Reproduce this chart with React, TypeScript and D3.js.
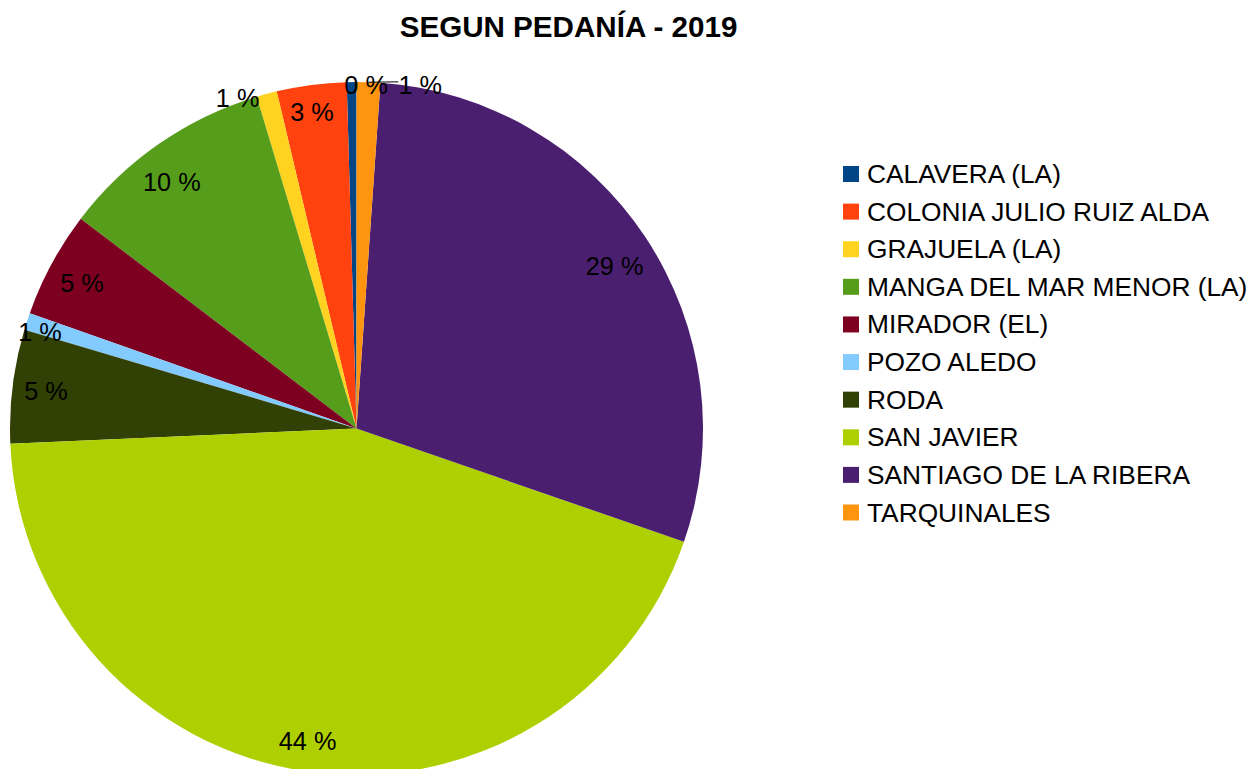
import React from 'react';
import * as d3 from 'd3';

// data (share of total, %)
const categories = [
  'CALAVERA (LA)',
  'COLONIA JULIO RUIZ ALDA',
  'GRAJUELA (LA)',
  'MANGA DEL MAR MENOR (LA)',
  'MIRADOR (EL)',
  'POZO ALEDO',
  'RODA',
  'SAN JAVIER',
  'SANTIAGO DE LA RIBERA',
  'TARQUINALES',
];
const shares = [0.45, 3.25, 0.95, 10.0, 4.95, 0.8, 5.3, 44.0, 29.2, 1.1];
const colors = [
  '#004586',
  '#ff420e',
  '#ffd320',
  '#579d1c',
  '#7e0021',
  '#83caff',
  '#314004',
  '#aecf00',
  '#4b1f6f',
  '#ff950e',
];
const title = 'SEGUN PEDANÍA - 2019';

// label nudges away from the plain centroid (layout only)
const labelNudge: Record<string, [number, number]> = {
  'CALAVERA (LA)': [14, -32],
  'COLONIA JULIO RUIZ ALDA': [-4, -7.5],
  'GRAJUELA (LA)': [-38, -29],
  'MANGA DEL MAR MENOR (LA)': [-7, 10],
  'MIRADOR (EL)': [0, 2.5],
  'POZO ALEDO': [-20, -0.5],
  RODA: [-1, 0.5],
  'SAN JAVIER': [-4, 4],
  'SANTIAGO DE LA RIBERA': [-2, 10],
  TARQUINALES: [53, -32],
};

const width = 1250;
const height = 769;
const cx = 356.5;
const cy = 428.5;
const radius = 346.5;
const font = '"Liberation Sans", Arial, sans-serif';

type Row = { name: string; value: number; color: string };

export default function App() {
  const rows: Row[] = categories.map((c, i) => ({ name: c, value: shares[i], color: colors[i] }));
  const total = d3.sum(shares);

  const pie = d3
    .pie<Row>()
    .sort(null)
    .value((d) => d.value)
    .startAngle(0)
    .endAngle(-2 * Math.PI);
  const arcs = pie(rows);

  const arc = d3.arc<d3.PieArcDatum<Row>>().innerRadius(0).outerRadius(radius);
  const labelArc = d3
    .arc<d3.PieArcDatum<Row>>()
    .innerRadius(radius * 0.9)
    .outerRadius(radius * 0.9);
  const edgeArc = d3.arc<d3.PieArcDatum<Row>>().innerRadius(radius).outerRadius(radius);

  const legendY = d3.scalePoint<string>().domain(categories).range([174, 512.5]);

  const tarq = arcs[arcs.length - 1];
  const tarqEdge = edgeArc.centroid(tarq);
  const tarqLabel = labelArc.centroid(tarq);
  const tn = labelNudge['TARQUINALES'];

  return (
    <svg
      width={width}
      height={height}
      viewBox={`0 0 ${width} ${height}`}
      style={{ position: 'absolute', left: 0, top: 0, background: '#fff' }}
    >
      <rect width={width} height={height} fill='#fff' />
      <text
        x={568.5}
        y={37}
        textAnchor='middle'
        fontFamily={font}
        fontWeight='bold'
        fontSize={29.6}
      >
        {title}
      </text>
      <g transform={`translate(${cx},${cy})`}>
        {arcs.map((a) => (
          <path key={a.data.name} d={arc(a) || ''} fill={a.data.color} />
        ))}
        <line
          x1={tarqEdge[0]}
          y1={tarqEdge[1]}
          x2={tarqLabel[0] + tn[0] - 22}
          y2={tarqLabel[1] + tn[1] - 3}
          stroke='#000'
          strokeWidth={1}
        />
        {arcs.map((a) => {
          const [x, y] = labelArc.centroid(a);
          const n = labelNudge[a.data.name] || [0, 0];
          return (
            <text
              key={a.data.name}
              x={x + n[0]}
              y={y + n[1]}
              textAnchor='middle'
              dominantBaseline='central'
              fontFamily={font}
              fontSize={25.3}
              fill='#000'
            >
              {`${Math.round((a.data.value / total) * 100)} %`}
            </text>
          );
        })}
      </g>
      <g>
        {rows.map((r) => (
          <g key={r.name} transform={`translate(843,${legendY(r.name)})`}>
            <rect x={0} y={-8} width={16} height={16} fill={r.color} />
            <text
              x={24}
              y={0}
              dominantBaseline='central'
              fontFamily={font}
              fontSize={26.3}
              fill='#000'
            >
              {r.name}
            </text>
          </g>
        ))}
      </g>
    </svg>
  );
}
